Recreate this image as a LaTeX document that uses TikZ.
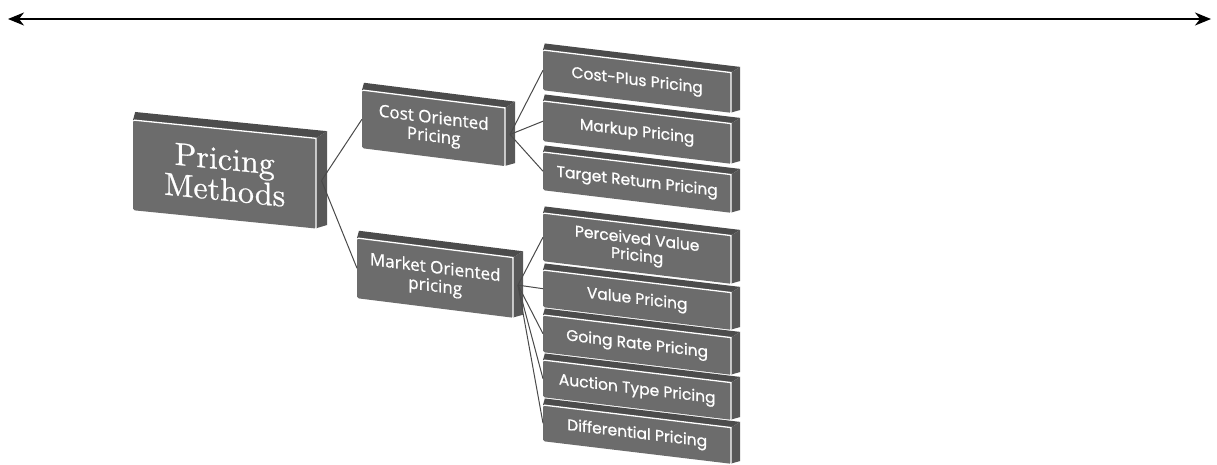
\documentclass[tikz,border=0pt]{standalone}
\usepackage{fontspec}
\usetikzlibrary{arrows.meta}
\newfontfamily\leaffont[FakeBold=0.8]{Poppins}
\newfontfamily\midfont[FakeBold=0.8]{Open Sans}
\newfontfamily\rootfont{lmroman10-regular.otf}[FakeBold=0.7]
\definecolor{facegray}{HTML}{6C6C6C}
\definecolor{topgray}{HTML}{4C4C4C}
\definecolor{sidegray}{HTML}{585858}
\definecolor{linkgray}{HTML}{4A4A4A}

\tikzset{
  frontface/.style={fill=facegray, rounded corners=1.5pt, inner sep=0pt,
    text=white, align=center, anchor=north west},
  topface/.style={fill=topgray},
  sideface/.style={fill=sidegray},
  edgelight/.style={draw=white, line width=1.3pt},
  pmtext/.style={font=\rootfont\fontsize{32}{31}\selectfont},
  midtext/.style={font=\midfont\fontsize{17}{18.5}\selectfont},
  leaftext/.style={font=\leaffont\fontsize{15.5}{17}\selectfont},
  link/.style={draw=linkgray, line width=1pt},
  timeline/.style={line width=1.8pt,
    {Stealth[length=16pt,width=13pt,inset=5pt]}-{Stealth[length=16pt,width=13pt,inset=5pt]}}
}

% slanted 3-D block: name, left x, top y, width, height, slope, depth, text style, text
\newcommand\slabbox[9]{%
  \begin{scope}[shift={(#2,#3)}, yslant=-#6]
    \fill[topface] (0,0) -- (0.2*#7,-0.75*#7) -- (#4+#7,-0.75*#7) -- (#4,0) -- cycle;
    \fill[sideface] (#4,0) -- (#4+#7,-0.75*#7) -- (#4+#7,#5-0.4*#7) -- (#4,#5) -- cycle;
    \node[frontface, #8, transform shape, minimum width=#4, minimum height=#5] (#1) at (0,0) {#9};
    \draw[edgelight] (1,0) -- (#4,0) -- (#4,#5);
    \coordinate (#1-out) at (#4+0.5*#7, 0.5*#5-0.3*#7);
  \end{scope}}

\begin{document}
\begin{tikzpicture}[x=1pt, y=-1pt]
  \useasboundingbox (0,0) rectangle (1217,464);
  \fill[white] (0,0) rectangle (1217,464);

  % double-headed line across the top
  \coordinate (tl-l) at (8,19);
  \coordinate (tl-r) at (1211,19);
  \draw[timeline] (tl-l) -- (tl-r);

  % root
  \slabbox{pm}{133}{120}{183}{90}{0.10}{11}{pmtext}{Pricing\\Methods}

  % second level
  \slabbox{co}{362}{90}{143}{58}{0.125}{10}{midtext}{Cost Oriented\\Pricing}
  \slabbox{mo}{357}{238}{156}{60}{0.125}{10}{midtext}{Market Oriented\\pricing}

  % cost oriented methods
  \slabbox{cp}{543}{50}{188}{40}{0.12}{9}{leaftext}{Cost-Plus Pricing}
  \slabbox{mu}{543}{101}{188}{40}{0.12}{9}{leaftext}{Markup Pricing}
  \slabbox{tr}{543}{152}{188}{38}{0.12}{9}{leaftext}{Target Return Pricing}

  % market oriented methods
  \slabbox{pv}{543}{213}{188}{48}{0.12}{9}{leaftext}{Perceived Value\\Pricing}
  \slabbox{vp}{543}{270}{188}{37}{0.12}{9}{leaftext}{Value Pricing}
  \slabbox{gr}{543}{315}{188}{37}{0.12}{9}{leaftext}{Going Rate Pricing}
  \slabbox{at}{543}{360}{188}{37}{0.12}{9}{leaftext}{Auction Type Pricing}
  \slabbox{dp}{543}{405}{188}{36}{0.12}{9}{leaftext}{Differential Pricing}

  % connectors
  \draw[link] (pm-out) -- (co.west);
  \draw[link] (pm-out) -- (mo.west);
  \foreach \c in {cp,mu,tr} \draw[link] (co-out) -- (\c.west);
  \foreach \c in {pv,vp,gr,at,dp} \draw[link] (mo-out) -- (\c.west);
\end{tikzpicture}
\end{document}
